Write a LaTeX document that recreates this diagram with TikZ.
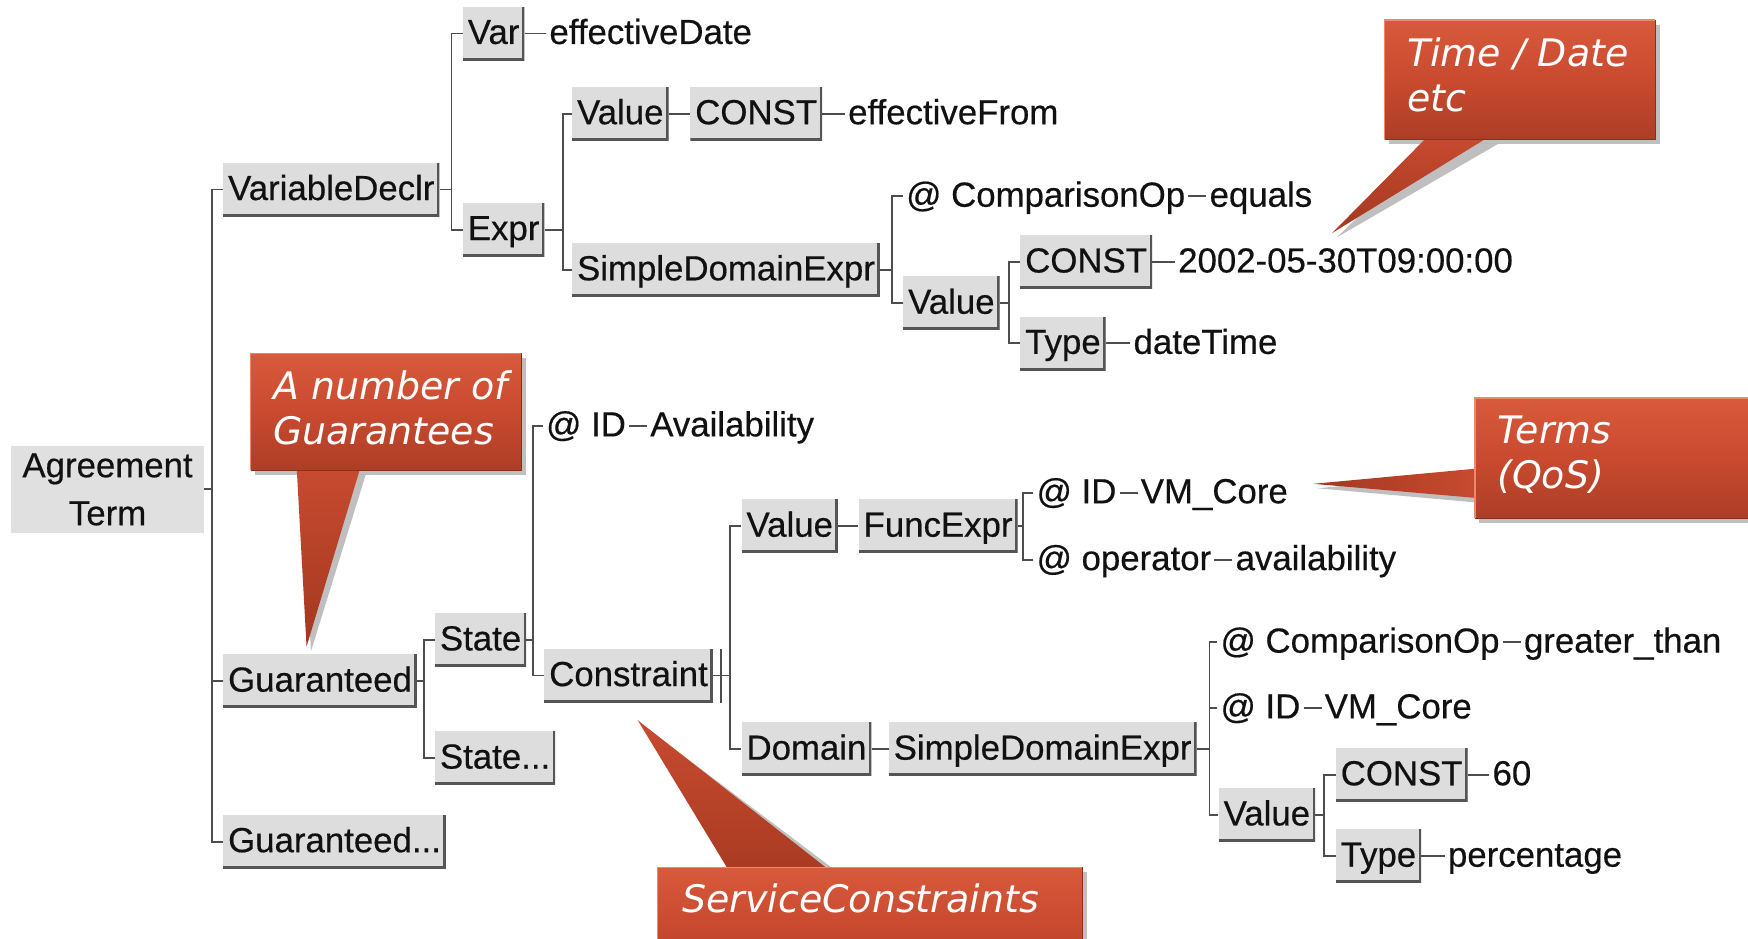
\documentclass[tikz,border=0pt]{standalone}
\usepackage{fontspec}
\setmainfont{Liberation Sans}
\newfontfamily\treefam{Liberation Sans}[FakeBold=0.45]
\newfontfamily\callfont{DejaVu Sans}
\definecolor{boxfill}{HTML}{DDDDDD}
\definecolor{rootfill}{HTML}{E0E0E0}
\definecolor{boxedge}{HTML}{555555}
\definecolor{connc}{HTML}{4D4D4D}
\definecolor{txt}{HTML}{111111}
\definecolor{calltop}{HTML}{D85A3C}
\definecolor{callmid}{HTML}{C94A2F}
\definecolor{callbot}{HTML}{AC3E26}
\definecolor{ptrlight}{HTML}{C84B30}
\definecolor{ptrdark}{HTML}{A3381F}
\definecolor{bevlightc}{HTML}{EC8A68}
\definecolor{bevdarkc}{HTML}{8C2E1B}
\tikzset{
  treefont/.style={font=\treefam\fontsize{34.8pt}{40pt}\selectfont, text=txt},
  tbox/.style={treefont, anchor=west, fill=boxfill, inner xsep=5pt, inner ysep=0pt,
    minimum height=53.5pt, text height=27pt, text depth=6pt,
    path picture={\draw[boxedge, line width=5pt]
      (path picture bounding box.north east) -- (path picture bounding box.south east)
      -- (path picture bounding box.south west);}},
  rootbox/.style={font=\treefam\fontsize{34.8pt}{48pt}\selectfont, text=txt, fill=rootfill,
    align=center, minimum width=193pt, minimum height=87pt, inner sep=0pt},
  leaf/.style={treefont, anchor=west, inner xsep=3pt, inner ysep=0pt, text height=25pt, text depth=4pt},
  conn/.style={draw=connc, line width=1.8pt},
  calltext/.style={font=\callfont\itshape\fontsize{37.9pt}{45pt}\selectfont, text=white,
    align=left, inner sep=0pt, anchor=west},
  callrect/.style={top color=calltop, bottom color=callbot, middle color=callmid},
  callshade/.style={fill=black, opacity=0.25},
  bevlight/.style={draw=bevlightc, line width=1.3pt},
  bevdark/.style={draw=bevdarkc, line width=1.3pt},
}
\begin{document}
\begin{tikzpicture}[x=1.1148pt, y=-1.1148pt]
\useasboundingbox (0,0) rectangle (1568,842);
\clip (0,0) rectangle (1568,842);

% ---------------- tree nodes ----------------
\node[rootbox] (at) at (96.5,439) {Agreement\\Term};

\node[tbox] (vd) at (200,170) {VariableDeclr};
\node[tbox] (var) at (415,30) {Var};
\node[tbox] (expr) at (415,206) {Expr};
\node[tbox] (val1) at (513,102) {Value};
\node[tbox] (con1) at (619,102) {CONST};
\node[tbox] (sde1) at (513,242) {SimpleDomainExpr};
\node[tbox] (val2) at (810,272) {Value};
\node[tbox] (con2) at (915,235) {CONST};
\node[tbox] (typ1) at (915,308) {Type};

\node[tbox] (g) at (200,611) {Guaranteed};
\node[tbox] (gd) at (200,755) {Guaranteed...};
\node[tbox] (st) at (390,574) {State};
\node[tbox] (sd) at (390,680) {State...};
\node[tbox] (cn) at (488,606) {Constraint};
\node[tbox] (val3) at (665,472) {Value};
\node[tbox] (fe) at (770,472) {FuncExpr};
\node[tbox] (dom) at (665,672) {Domain};
\node[tbox] (sde2) at (797,672) {SimpleDomainExpr};
\node[tbox] (val4) at (1093,731) {Value};
\node[tbox] (con3) at (1198,695) {CONST};
\node[tbox] (typ2) at (1198,768) {Type};

% leaves
\node[leaf] (ed) at (490,30) {effectiveDate};
\node[leaf] (ef) at (758,102) {effectiveFrom};
\node[leaf] (k1) at (810,176) {@ ComparisonOp};
\node[leaf] (v1) at ([xshift=18pt]k1.east) {equals};
\node[leaf] (dt) at (1054,235) {2002-05-30T09:00:00};
\node[leaf] (dtt) at (1014,308) {dateTime};
\node[leaf] (k2) at (487,382) {@ ID};
\node[leaf] (v2) at ([xshift=18pt]k2.east) {Availability};
\node[leaf] (k3) at (927,442) {@ ID};
\node[leaf] (v3) at ([xshift=18pt]k3.east) {VM\_Core};
\node[leaf] (k4) at (927,502) {@ operator};
\node[leaf] (v4) at ([xshift=18pt]k4.east) {availability};
\node[leaf] (k5) at (1092,576) {@ ComparisonOp};
\node[leaf] (v5) at ([xshift=18pt]k5.east) {greater\_than};
\node[leaf] (k6) at (1092,635) {@ ID};
\node[leaf] (v6) at ([xshift=18pt]k6.east) {VM\_Core};
\node[leaf] (sixty) at (1336,695) {60};
\node[leaf] (pct) at (1296,768) {percentage};

% ---------------- bus coordinates ----------------
\coordinate (b0) at (190,0);
\coordinate (b1) at (405,0);
\coordinate (b2) at (505,0);
\coordinate (b3) at (800,0);
\coordinate (b4) at (905,0);
\coordinate (b5) at (380,0);
\coordinate (b6) at (478,0);
\coordinate (b7) at (655,0);
\coordinate (tk) at (647,0);
\coordinate (b8) at (918,0);
\coordinate (b9) at (1085,0);
\coordinate (b10) at (1188,0);

% ---------------- connectors ----------------
\draw[conn] (at.east) -- (at.east -| b0) |- (vd.west);
\draw[conn] (at.east -| b0) |- (g.west);
\draw[conn] (at.east -| b0) |- (gd.west);

\draw[conn] (vd.east) -- (vd.east -| b1) |- (var.west);
\draw[conn] (vd.east -| b1) |- (expr.west);
\draw[conn] (var.east) -- (ed.west);

\draw[conn] (expr.east) -- (expr.east -| b2) |- (val1.west);
\draw[conn] (expr.east -| b2) |- (sde1.west);
\draw[conn] (val1.east) -- (con1.west);
\draw[conn] (con1.east) -- (ef.west);

\draw[conn] (sde1.east) -- (sde1.east -| b3) |- (k1.west);
\draw[conn] (sde1.east -| b3) |- (val2.west);
\draw[conn] (k1.east) -- (v1.west);

\draw[conn] (val2.east) -- (val2.east -| b4) |- (con2.west);
\draw[conn] (val2.east -| b4) |- (typ1.west);
\draw[conn] (con2.east) -- (dt.west);
\draw[conn] (typ1.east) -- (dtt.west);

\draw[conn] (g.east) -- (g.east -| b5) |- (st.west);
\draw[conn] (g.east -| b5) |- (sd.west);

\draw[conn] (st.east) -- (st.east -| b6) |- (k2.west);
\draw[conn] (st.east -| b6) |- (cn.west);
\draw[conn] (k2.east) -- (v2.west);

\draw[conn] (cn.east) -- (cn.east -| b7) |- (val3.west);
\draw[conn] (cn.east -| b7) |- (dom.west);
\draw[conn] (tk |- cn.north) -- (tk |- cn.south);
\draw[conn] (val3.east) -- (fe.west);
\draw[conn] (dom.east) -- (sde2.west);

\draw[conn] (fe.east) -- (fe.east -| b8) |- (k3.west);
\draw[conn] (fe.east -| b8) |- (k4.west);
\draw[conn] (k3.east) -- (v3.west);
\draw[conn] (k4.east) -- (v4.west);

\draw[conn] (sde2.east) -- (sde2.east -| b9) |- (k5.west);
\draw[conn] (sde2.east -| b9) |- (k6.west);
\draw[conn] (sde2.east -| b9) |- (val4.west);
\draw[conn] (k5.east) -- (v5.west);
\draw[conn] (k6.east) -- (v6.west);

\draw[conn] (val4.east) -- (val4.east -| b10) |- (con3.west);
\draw[conn] (val4.east -| b10) |- (typ2.west);
\draw[conn] (con3.east) -- (sixty.west);
\draw[conn] (typ2.east) -- (pct.west);

% ---------------- callouts ----------------
% shadows
\begin{scope}[shift={(4,4)}]
  \fill[callshade] (1242,18) rectangle (1485,125);
  \fill[callshade] (1283,125) -- (1195,209) -- (1340,125) -- cycle;
  \fill[callshade] (225,317) rectangle (468,422);
  \fill[callshade] (266,422) -- (275,580) -- (324,422) -- cycle;
  \fill[callshade] (1323,357) rectangle (1580,465);
  \fill[callshade] (1323,420) -- (1178,434) -- (1323,447) -- cycle;
  \fill[callshade] (590,778) rectangle (971,860);
  \fill[callshade] (655,778) -- (572,646) -- (747,778) -- cycle;
\end{scope}

% Time / Date etc
\shade[top color=ptrlight, bottom color=ptrdark] (1283,120) -- (1195,209) -- (1340,120) -- cycle;
\shade[callrect] (1242,18) rectangle (1485,125);
\draw[bevlight] (1242,125) -- (1242,18) -- (1485,18);
\draw[bevdark] (1485,18) -- (1485,125) -- (1242,125);
\node[calltext] (t1) at (1262,67) {Time / Date\\etc};

% A number of Guarantees
\shade[top color=ptrlight, bottom color=ptrdark] (266,417) -- (275,580) -- (324,417) -- cycle;
\shade[callrect] (225,317) rectangle (468,422);
\draw[bevlight] (225,422) -- (225,317) -- (468,317);
\draw[bevdark] (468,317) -- (468,422) -- (225,422);
\node[calltext] (t2) at (245,366) {A number of\\Guarantees};

% Terms (QoS)
\shade[left color=ptrdark, right color=ptrlight] (1328,420) -- (1178,434) -- (1328,447) -- cycle;
\shade[callrect] (1323,357) rectangle (1580,465);
\draw[bevlight] (1323,465) -- (1323,357) -- (1580,357);
\draw[bevdark] (1323,465) -- (1580,465);
\node[calltext] (t3) at (1343,408) {Terms\\(QoS)};

% ServiceConstraints
\shade[top color=ptrlight, bottom color=ptrdark!85!ptrlight] (655,783) -- (572,646) -- (747,783) -- cycle;
\shade[callrect] (590,778) rectangle (971,880);
\draw[bevlight] (590,880) -- (590,778) -- (971,778);
\draw[bevdark] (971,778) -- (971,880);
\node[calltext] (t4) at (612,806) {ServiceConstraints};

\end{tikzpicture}
\end{document}
